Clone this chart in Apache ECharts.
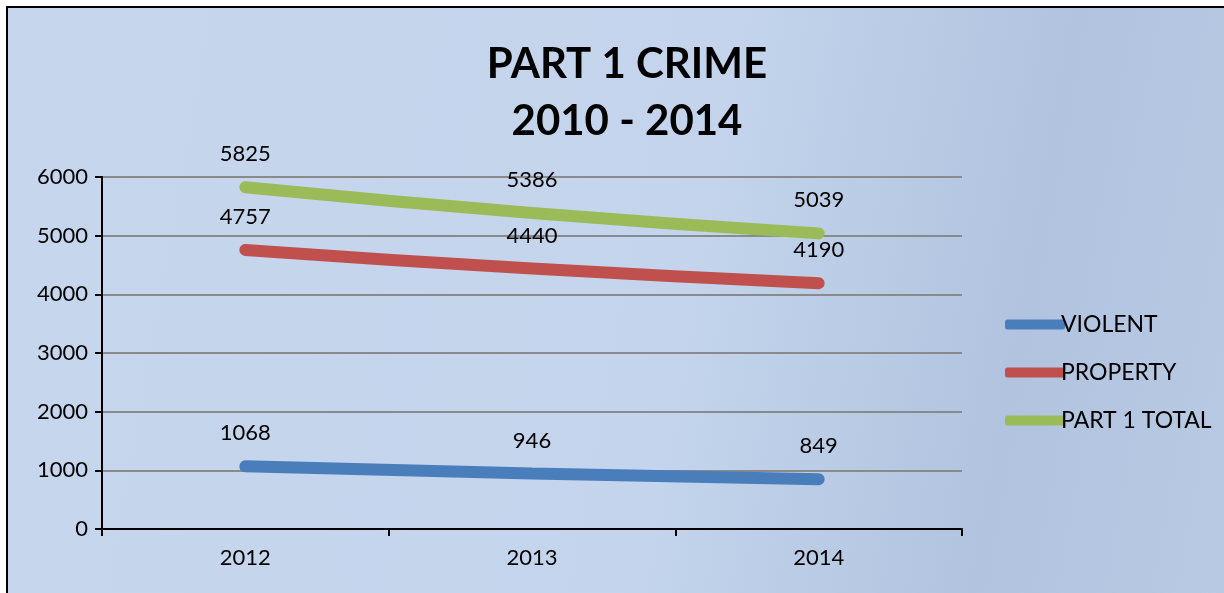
<!DOCTYPE html>
<html>
<head>
<meta charset="utf-8">
<script src="https://cdn.jsdelivr.net/npm/echarts@6/dist/echarts.min.js"></script>
<style>
  html, body { margin: 0; padding: 0; background: #ffffff; }
  #frame {
    position: absolute; left: 6px; top: 6px; width: 1230px; height: 600px;
    border-left: 2px solid #000; border-top: 2px solid #000;
    background: linear-gradient(100deg, #c6d6ed 0%, #c3d4ec 55%, #b1c3df 80%, #b9cae4 100%);
  }
  #main { position: absolute; left: 0; top: 0; width: 1224px; height: 593px; }
</style>
</head>
<body>
<div id="frame"></div>
<div id="main"></div>
<script>
  var years = ["2012", "2013", "2014"];
  var violent = [1068, 946, 849];
  var property = [4757, 4440, 4190];
  var part1Total = [5825, 5386, 5039];
  var yTicks = { min: 0, max: 6000, interval: 1000 };

  var fontFamily = "Lato";

  function lineSeries(name, data, color) {
    return {
      name: name,
      type: "line",
      data: data,
      smooth: true,
      symbol: "circle",
      symbolSize: 2,
      showSymbol: true,
      lineStyle: { width: 12, color: color, cap: "round" },
      itemStyle: { color: color },
      label: {
        show: true,
        position: "top",
        distance: 21,
        color: "#000",
        fontSize: 22,
        fontFamily: fontFamily
      }
    };
  }

  var myChart = echarts.init(document.getElementById("main"));
  myChart.setOption({
    backgroundColor: "transparent",
    animation: false,
    title: {
      text: "PART 1 CRIME\n2010 - 2014",
      left: 622,
      top: 31,
      textAlign: "center",
      textStyle: {
        fontSize: 42,
        fontWeight: "bold",
        color: "#000",
        lineHeight: 57,
        fontFamily: fontFamily
      }
    },
    legend: {
      orient: "vertical",
      left: 1000,
      top: 308,
      itemGap: 25,
      itemWidth: 60,
      itemHeight: 10,
      icon: "roundRect",
      textStyle: { fontSize: 23, color: "#000", fontFamily: fontFamily, padding: [0, 0, 0, -9] },
      data: ["VIOLENT", "PROPERTY", "PART 1 TOTAL"]
    },
    grid: { left: 102, right: 262, top: 177, bottom: 64, containLabel: false },
    xAxis: {
      type: "category",
      data: years,
      boundaryGap: true,
      axisLine: { lineStyle: { color: "#000", width: 2 } },
      axisTick: { show: true, length: 7, lineStyle: { color: "#000", width: 2 } },
      axisLabel: { color: "#000", fontSize: 22, margin: 18, fontFamily: fontFamily }
    },
    yAxis: {
      type: "value",
      min: yTicks.min,
      max: yTicks.max,
      interval: yTicks.interval,
      axisLine: { show: true, lineStyle: { color: "#000", width: 2 } },
      axisTick: { show: true, length: 7, lineStyle: { color: "#000", width: 2 } },
      axisLabel: {
        color: "#000", fontSize: 22, margin: 14, fontFamily: fontFamily,
        formatter: function (v) { return String(v); }
      },
      splitLine: { show: true, lineStyle: { color: "#8a8a8a", width: 2 } }
    },
    series: [
      lineSeries("VIOLENT", violent, "#4a7ebb"),
      lineSeries("PROPERTY", property, "#c0504d"),
      lineSeries("PART 1 TOTAL", part1Total, "#9bbb59")
    ]
  });
</script>
</body>
</html>
